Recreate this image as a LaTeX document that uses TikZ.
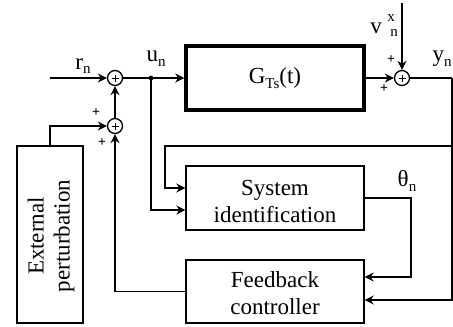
\documentclass[tikz,border=0pt]{standalone}
\usepackage{fontspec}
\setmainfont{Liberation Serif}
\newfontfamily\tnr{Liberation Serif}
\usetikzlibrary{arrows.meta}
\newcommand\mysub[1]{\raisebox{-0.45ex}{\fontsize{15}{15}\selectfont #1}}
\begin{document}
\begin{tikzpicture}[x=1pt,y=-1pt, line width=1.3pt,
 box/.style={draw, rectangle, minimum width=178pt, minimum height=64pt, align=center,
   font=\tnr\fontsize{23}{27}\selectfont, inner sep=0pt},
 sumc/.style={draw, circle, minimum size=15pt, inner sep=0pt,
   path picture={\draw[line width=1pt] ([xshift=-3.5pt]path picture bounding box.center) -- ([xshift=3.5pt]path picture bounding box.center);
                 \draw[line width=1pt] ([yshift=-3.5pt]path picture bounding box.center) -- ([yshift=3.5pt]path picture bounding box.center);}},
 arr/.style={-{Stealth[length=9pt,width=9pt]}},
 pl/.style={font=\tnr\fontsize{14}{14}\selectfont\bfseries, inner sep=0pt},
 lbl/.style={font=\tnr\fontsize{23}{25}\selectfont, inner sep=0pt}]
\useasboundingbox (0,0) rectangle (453,327);

% blocks
\node[box, line width=3.5pt] (G) at (275,78) {G\mysub{Ts}(t)};
\node[box] (sid) at (275,198) {};
\node[align=center, font=\tnr\fontsize{23}{27}\selectfont, inner sep=0pt] (sidtxt) at (275,201) {System\\identification};
\node[box, minimum height=63pt] (ctrl) at (275,291.5) {};
\node[align=center, font=\tnr\fontsize{23}{27}\selectfont, inner sep=0pt] (ctrltxt) at (275,293) {Feedback\\controller};
\node[draw, rectangle, minimum width=66pt, minimum height=177pt, inner sep=0pt] (ext) at (50,234.5) {};
\node[rotate=90, align=center, font=\tnr\fontsize{23}{26}\selectfont, inner sep=0pt] (exttxt) at (51,236) {External\\perturbation};

% summing junctions
\node[sumc] (s1) at (115,78) {};
\node[sumc] (s2) at (115,126) {};
\node[sumc] (s3) at (402,78) {};

% helper coordinates
\coordinate (rin) at (50,78);
\coordinate (un) at (151,78);
\coordinate (vt) at (402,3);
\coordinate (yc) at (452,78);
\coordinate (fb) at (452,146);
\coordinate (k1) at (165,146);
\coordinate (th) at (411,198);

% connectors
\draw[arr] (rin) -- (s1);
\draw[arr] (s2) -- (s1);
\draw[arr] (s1) -- (G.west);
\fill (un) circle (2.4pt);
\draw[arr] (un) |- ([yshift=-12pt]sid.west);
\draw[arr] (fb) -- (k1) |- ([yshift=10pt]sid.west);
\draw[arr] (G.east) -- (s3);
\draw[arr] (vt) -- (s3);
\draw (s3) -- (yc);
\draw[arr] (yc) |- ([yshift=-8.5pt]ctrl.east);
\fill (fb) circle (1.5pt);
\draw[arr] (sid.east) -- (th) |- ([yshift=14.5pt]ctrl.east);
\draw[arr] (ctrl.west) -| (s2);
\draw[arr] (ext.north) |- (s2);

% labels
\node[lbl] (lr) at (83,66) {r\mysub{n}};
\node[lbl] (lu) at (156,59) {u\mysub{n}};
\node[lbl] (lv) at (376,28) {v};
\node[font=\tnr\fontsize{15}{15}\selectfont, inner sep=0pt] (lvx) at (391,18) {x};
\node[font=\tnr\fontsize{15}{15}\selectfont, inner sep=0pt] (lvn) at (394,33) {n};
\node[lbl] (ly) at (442,59) {y\mysub{n}};
\node[lbl] (lth) at (407,181) {θ\mysub{n}};

% signs
\node[pl] (p1) at (96,113) {+};
\node[pl] (p2) at (102,143) {+};
\node[pl] (p3) at (391,60) {+};
\node[pl] (p4) at (384,89) {+};
\end{tikzpicture}
\end{document}
